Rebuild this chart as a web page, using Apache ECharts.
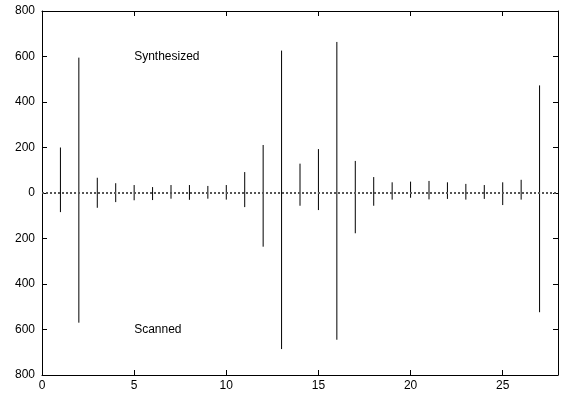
<!DOCTYPE html>
<html>
<head>
<meta charset="utf-8">
<script src="https://cdn.jsdelivr.net/npm/echarts@6/dist/echarts.min.js"></script>
<style>
  html, body { margin: 0; padding: 0; background: #fff; }
  #chart { width: 561px; height: 393px; }
</style>
</head>
<body>
<div id="chart"></div>
<script>
// positions 1..27
const positions = [1,2,3,4,5,6,7,8,9,10,11,12,13,14,15,16,17,18,19,20,21,22,23,24,25,26,27]
// upward: synthesized, downward: scanned
const synthesized = [200,595,67,43,35,26,35,35,31,35,92,211,626,129,193,664,141,70,47,50,53,47,40,35,47,58,473]
const scanned = [84,570,65,40,32,31,25,30,25,29,62,236,686,56,75,645,177,56,29,21,28,26,29,26,53,29,524]
const xTicks = [0, 5, 10, 15, 20, 25]
const yTicks = [-800, -600, -400, -200, 0, 200, 400, 600, 800]

const font = 'Liberation Sans, Arial, Helvetica, sans-serif'

const data = positions.map((x, i) => [x, synthesized[i], -scanned[i]])

const chart = echarts.init(document.getElementById('chart'))

const frameLine = { show: true, onZero: false, lineStyle: { color: '#000', width: 1 } }
const innerTick = { show: true, inside: true, length: 5, lineStyle: { color: '#000' } }

chart.setOption({
  animation: false,
  backgroundColor: '#fff',
  grid: { left: 42, right: 3, top: 11, bottom: 18, containLabel: false },
  xAxis: [
    {
      type: 'value', min: 0, max: 28, interval: 5,
      axisLine: frameLine, axisTick: innerTick, splitLine: { show: false },
      axisLabel: {
        color: '#000', fontFamily: font, fontSize: 12, margin: 5,
        showMaxLabel: false,
        formatter: v => xTicks.includes(v) ? String(v) : ''
      }
    },
    {
      type: 'value', position: 'top', min: 0, max: 28, interval: 5,
      axisLine: frameLine, axisTick: innerTick, axisLabel: { show: false }, splitLine: { show: false }
    }
  ],
  yAxis: [
    {
      type: 'value', min: -800, max: 800, interval: 200,
      axisLine: frameLine, axisTick: innerTick, splitLine: { show: false },
      axisLabel: {
        color: '#000', fontFamily: font, fontSize: 12, margin: 7,
        formatter: v => yTicks.includes(v) ? String(Math.abs(v)) : ''
      }
    },
    {
      type: 'value', position: 'right', min: -800, max: 800, interval: 200,
      axisLine: frameLine, axisTick: innerTick, axisLabel: { show: false }, splitLine: { show: false }
    }
  ],
  series: [
    {
      type: 'custom',
      data: data,
      encode: { x: 0, y: [1, 2] },
      renderItem: (params, api) => {
        const top = api.coord([api.value(0), api.value(1)])
        const bottom = api.coord([api.value(0), api.value(2)])
        return {
          type: 'line',
          shape: { x1: top[0], y1: top[1], x2: bottom[0], y2: bottom[1] },
          style: { stroke: '#000', lineWidth: 1 }
        }
      },
      markLine: {
        silent: true,
        symbol: 'none',
        label: { show: false },
        lineStyle: { color: '#555', width: 2, type: 'dotted' },
        data: [{ yAxis: 0 }]
      },
      markPoint: {
        symbol: 'circle',
        symbolSize: 0,
        label: {
          show: true, position: 'right', distance: 0,
          color: '#000', fontFamily: font, fontSize: 12,
          formatter: p => p.name
        },
        data: [
          { name: 'Synthesized', coord: [5, 600] },
          { name: 'Scanned', coord: [5, -600] }
        ]
      },
      z: 3
    }
  ]
})
</script>
</body>
</html>
